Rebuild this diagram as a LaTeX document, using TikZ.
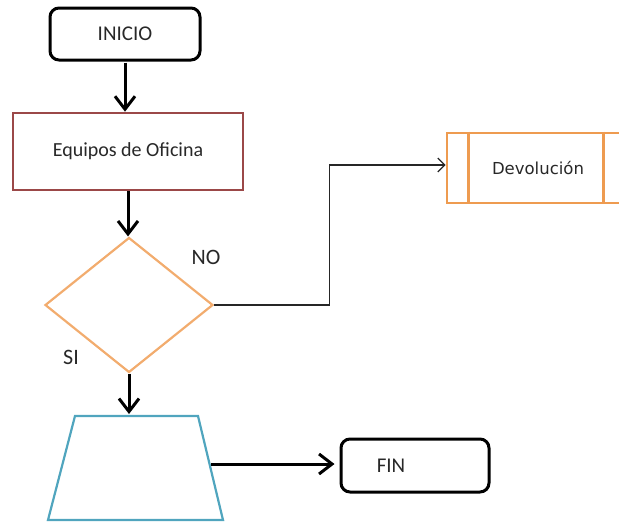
\documentclass[tikz,border=0pt]{standalone}
\usepackage{fontspec}
\setmainfont{Carlito}
\newfontfamily\devfont{DejaVu Sans}
\usetikzlibrary{arrows.meta,shapes.geometric}
\definecolor{boxred}{RGB}{155,72,72}
\definecolor{diaorange}{RGB}{242,172,110}
\definecolor{devorange}{RGB}{238,155,80}
\definecolor{trapblue}{RGB}{80,165,190}
\definecolor{txtgray}{RGB}{40,40,40}
\tikzset{
  terminal/.style={draw=black, line width=3pt, rounded corners=9pt, inner sep=0pt, font=\fontsize{21}{24}\selectfont, text=txtgray},
  procbox/.style={draw=boxred, line width=2.6pt, inner sep=0pt, font=\fontsize{20}{24}\selectfont, text=txtgray},
  decision/.style={diamond, draw=diaorange, line width=2.2pt, inner sep=0pt},
  subproc/.style={draw=devorange, line width=2.6pt, inner sep=0pt, font=\devfont\fontsize{16.5}{20}\selectfont, text=txtgray},
  inoutline/.style={draw=trapblue, line width=2.2pt, line join=miter},
  flow/.style={draw=black, line width=3pt, -{Straight Barb[length=13pt,width=20pt,line width=3pt]}},
  thinflow/.style={draw=black!85, line width=1.2pt, -{Straight Barb[length=7pt,width=14pt,line width=1.3pt]}},
  lbl/.style={font=\fontsize{22}{24}\selectfont, text=txtgray}
}
\begin{document}
\begin{tikzpicture}[x=1pt,y=-1pt]
\clip (0,0) rectangle (619,522);
\useasboundingbox (0,0) rectangle (619,522);
\node[terminal, minimum width=150pt, minimum height=52pt] (ini) at (125,34) {INICIO};
\node[procbox, minimum width=230pt, minimum height=77pt] (equ) at (128,151.5) {Equipos de Oficina};
\node[decision, minimum width=168pt, minimum height=135pt] (dec) at (129,305) {};
\node[lbl] (no) at (206,257) {NO};
\node[lbl] (si) at (71,357) {SI};
\node[subproc, minimum width=182pt, minimum height=70pt] (dev) at (538,168) {Devoluci\'on};
\draw[devorange, line width=2.6pt] ([xshift=23pt]dev.north west) -- ([xshift=23pt]dev.south west);
\draw[devorange, line width=2.6pt] ([xshift=158pt]dev.north west) -- ([xshift=158pt]dev.south west);
% trapezoid (manual input)
\coordinate (trapTL) at (75,416);
\coordinate (trapTR) at (198,416);
\coordinate (trapBR) at (223,520);
\coordinate (trapBL) at (48,520);
\coordinate (trapN) at (130,414);
\coordinate (trapE) at (211,464);
\draw[inoutline] (trapTL) -- (trapTR) -- (trapBR) -- (trapBL) -- cycle;
\node[terminal, minimum width=148pt, minimum height=53pt] (fin) at (415,465.5) {\hspace*{-48pt}FIN};
\path[flow, shorten <=1pt] (ini.south) -- (ini.south |- equ.north);
\path[flow] (equ.south) -- (equ.south |- dec.north);
\path[flow] (dec.south) -- (dec.south |- trapN);
\path[flow, shorten >=5pt] (trapE) -- (trapE -| fin.west);
\path[thinflow] (dec.east) -- ++(115,0) |- ([yshift=3pt]dev.west);
\end{tikzpicture}
\end{document}
